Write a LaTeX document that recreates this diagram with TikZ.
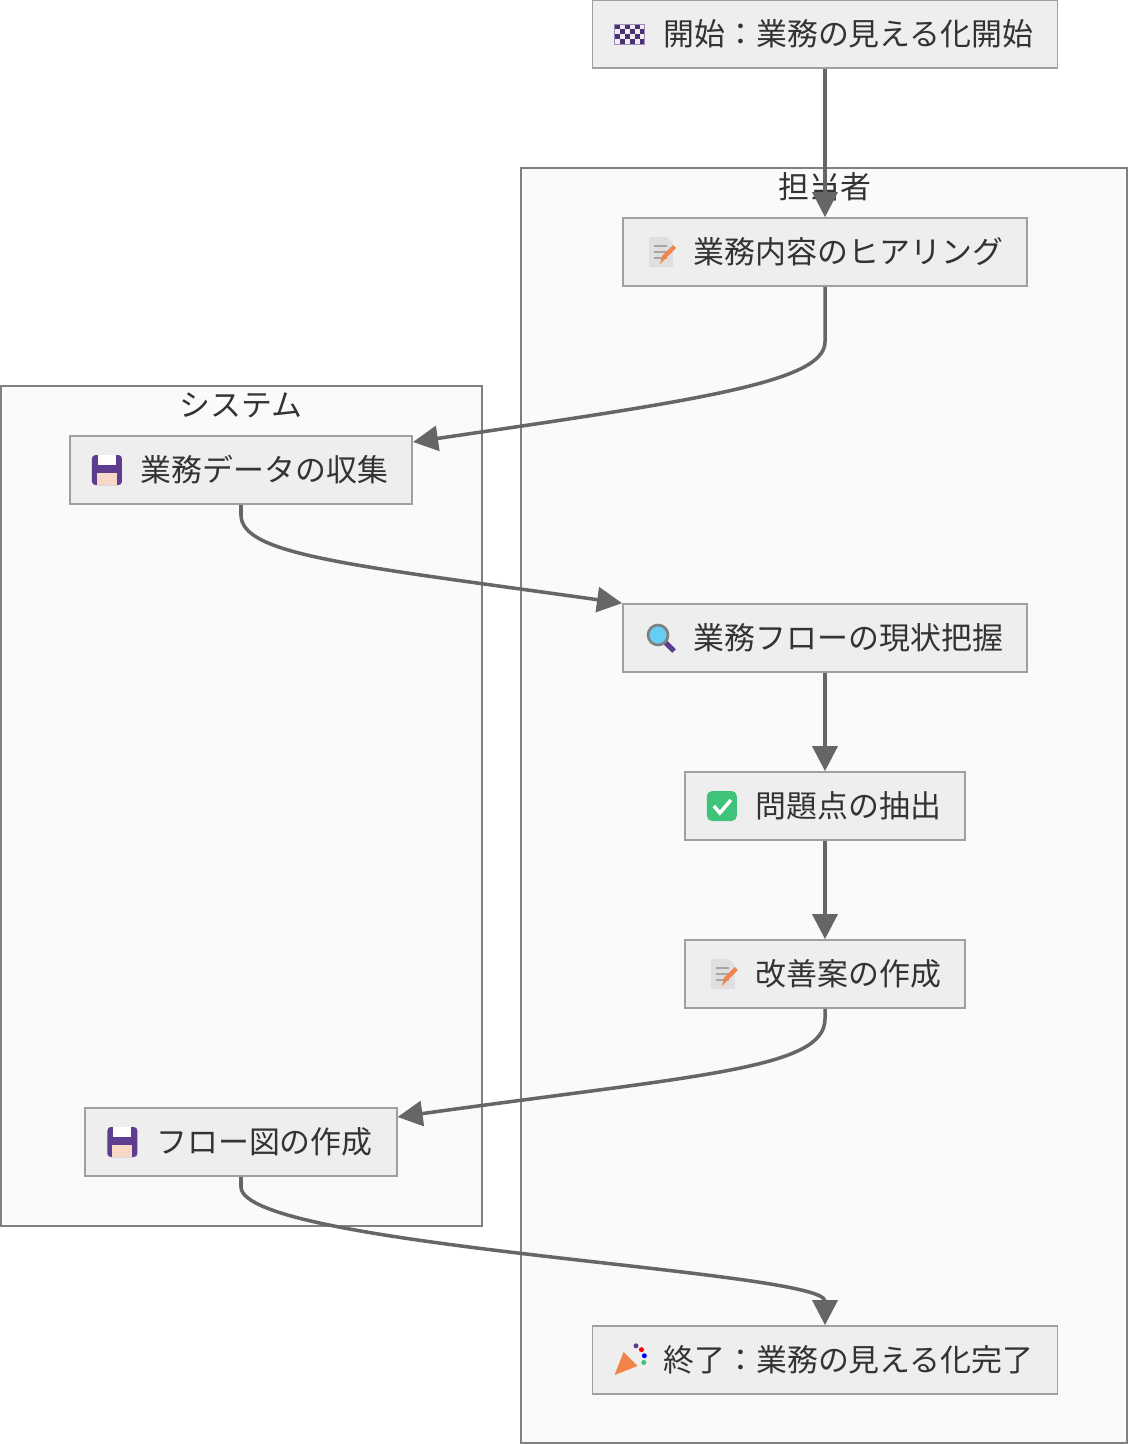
\documentclass[tikz,border=0pt]{standalone}
\usepackage{fontspec}
\setmainfont{Noto Sans CJK JP}
\usetikzlibrary{positioning, arrows.meta}
\definecolor{BoxFill}{HTML}{EEEEEE}
\definecolor{BoxLine}{HTML}{A0A0A0}
\definecolor{LaneFill}{HTML}{FAFAFA}
\definecolor{LaneLine}{HTML}{808080}
\definecolor{EdgeColour}{HTML}{666666}
\definecolor{TextColour}{HTML}{333333}
\definecolor{Floppy}{HTML}{5C3D8F}
\definecolor{Check}{HTML}{3FC37A}
\definecolor{Pencil}{HTML}{F2844A}
\newcommand\iconspace{\hspace{0.94cm}}

\tikzset{
    flowstep/.style = {draw = BoxLine, fill = BoxFill, line width = 1pt, minimum height = 1.36cm,
                   inner xsep = 0.48cm, text = TextColour, font = \fontsize{17.6}{20}\selectfont},
    lane/.style = {draw = LaneLine, fill = LaneFill, line width = 1pt},
    flow/.style = {draw = EdgeColour, line width = 2pt, -{Triangle[length = 5mm, width = 5mm]}},
    pics/flag/.style = {code = {
        \foreach \i in {0,...,5} \foreach \j in {0,...,3} {
            \pgfmathparse{int(mod(\i+\j,2))}
            \ifnum\pgfmathresult=0 \fill[Floppy!80!black] (\i*5-15, \j*5-10) rectangle ++(5,5); \fi
        }
        \draw[Floppy!60, line width = 0.3pt] (-15,-10) rectangle (15,10);}},
    pics/memo/.style = {code = {
        \fill[gray!25] (-12,-15) -- (6,-15) -- (12,-9) -- (12,15) -- (-12,15) -- cycle;
        \foreach \y in {-6,0,6} \draw[gray!70, line width = 0.6pt] (-7,\y) -- (6,\y);
        \fill[Pencil] (-1,12) -- (1,4) -- (12,-7) -- (15,-4) -- (4,7) -- cycle;}},
    pics/floppy/.style = {code = {
        \fill[Floppy, rounded corners = 2] (-15,-15) rectangle (15,15);
        \fill[white] (-9,-15) rectangle (9,-5);
        \fill[LaneFill!70!Pencil] (-10,3) rectangle (10,15);}},
    pics/lens/.style = {code = {
        \draw[Floppy, line width = 3pt] (4,4) -- (13,13);
        \fill[cyan!60] (-3,-3) circle (10);
        \draw[gray, line width = 1.5pt] (-3,-3) circle (10);}},
    pics/tick/.style = {code = {
        \fill[Check, rounded corners = 3] (-15,-15) rectangle (15,15);
        \draw[white, line width = 2pt] (-8,0) -- (-2,7) -- (9,-6);}},
    pics/popper/.style = {code = {
        \fill[Pencil] (-15,15) -- (-6,-8) -- (8,6) -- cycle;
        \foreach \a/\c in {-40/red, -10/blue, 20/Check, -70/Floppy} \fill[\c] (\a:13) ++(2,-2) circle (2.5);}}
}

\begin{document}
\begin{tikzpicture}[x = 0.02cm, y = -0.02cm]
    \useasboundingbox (0,0) rectangle (1129,1444);

    % lanes
    \draw[lane] (521,168) rectangle (1127,1443);
    \node[text = TextColour, font = \fontsize{17.6}{20}\selectfont] (laneA) at (825,187) {担当者};
    \draw[lane] (1,386) rectangle (482,1226);
    \node[text = TextColour, font = \fontsize{17.6}{20}\selectfont] (laneB) at (241,405) {システム};

    % steps
    \node[flowstep] (start)   at (825,34)   {\iconspace 開始：業務の見える化開始};
    \node[flowstep] (hearing) at (825,252)  {\iconspace 業務内容のヒアリング};
    \node[flowstep] (collect) at (241,470)  {\iconspace 業務データの収集};
    \node[flowstep] (current) at (825,638)  {\iconspace 業務フローの現状把握};
    \node[flowstep] (issues)  at (825,806)  {\iconspace 問題点の抽出};
    \node[flowstep] (plan)    at (825,974)  {\iconspace 改善案の作成};
    \node[flowstep] (chart)   at (241,1142) {\iconspace フロー図の作成};
    \node[flowstep] (finish)  at (825,1360) {\iconspace 終了：業務の見える化完了};

    % icons
    \pic at ([xshift = 0.76cm]start.west)   {flag};
    \pic at ([xshift = 0.78cm]hearing.west) {memo};
    \pic at ([xshift = 0.76cm]collect.west) {floppy};
    \pic at ([xshift = 0.78cm]current.west) {lens};
    \pic at ([xshift = 0.76cm]issues.west)  {tick};
    \pic at ([xshift = 0.78cm]plan.west)    {memo};
    \pic at ([xshift = 0.76cm]chart.west)   {floppy};
    \pic at ([xshift = 0.76cm]finish.west)  {popper};

    % connectors
    \draw[flow] (start) -- (hearing);
    \draw[flow] (hearing.south) -- ++(0,55) .. controls +(0,40) and (700,400) .. (collect.east |- 0,442);
    \draw[flow] (collect.south) -- ++(0,10) .. controls +(0,40) and (350,565) .. (current.north west);
    \draw[flow] (issues.north |- current.south) -- (issues);
    \draw[flow] (issues) -- (plan);
    \draw[flow] (plan.south) -- ++(0,10) .. controls +(0,50) and (700,1075) .. (chart.east |- 0,1117);
    \draw[flow] (chart.south) -- ++(0,10) .. controls +(0,60) and (825,1270) .. (finish.north);
\end{tikzpicture}
\end{document}
